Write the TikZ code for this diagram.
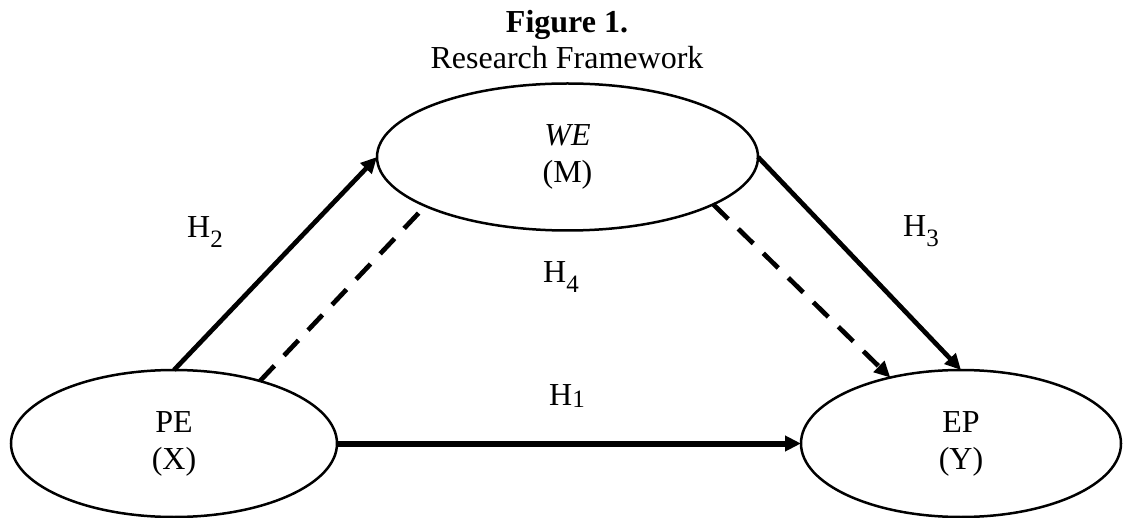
\documentclass[tikz,border=0pt]{standalone}
\usepackage{fontspec}
\setmainfont{Liberation Serif}
\usetikzlibrary{shapes.geometric,arrows.meta}
\newcommand{\hlab}[2]{H\raisebox{#2}{\fontsize{25bp}{25bp}\selectfont #1}}
\begin{document}
\begin{tikzpicture}[x=1bp,y=-1bp,
  txt/.style={font=\fontsize{32bp}{37bp}\selectfont},
  var/.style={ellipse, draw, line width=2.5bp, inner sep=0pt, outer sep=0pt,
    align=center, txt, minimum height=147bp},
  lbl/.style={inner sep=0pt, anchor=base west, txt},
  tip/.style={-{Triangle[length=16bp,width=15bp]}},
  solidpath/.style={line width=4.7bp},
  dashpath/.style={line width=4.7bp, dash pattern=on 21bp off 14bp}]
\useasboundingbox (0,0) rectangle (1123,518);
\node[txt, font=\fontsize{32bp}{37bp}\selectfont\bfseries, anchor=base, inner sep=0pt] (fig) at (567,33) {Figure 1.};
\node[txt, anchor=base, inner sep=0pt] (rf) at (567,69) {Research Framework};
\node[var, minimum width=381bp] (M) at (567.5,157) {\textit{WE}\\(M)};
\node[var, minimum width=326bp] (X) at (174,443.5) {PE\\(X)};
\node[var, minimum width=320bp] (Y) at (961,443.5) {EP\\(Y)};
\draw[solidpath, tip] (X.north) -- (M.west);
\draw[solidpath, tip] (M.east) -- (Y.north);
\draw[solidpath, line width=6bp, tip] (X.east) -- (Y.west);
\draw[dashpath] (X.36) -- (M.199);
\draw[dashpath, tip] (M.342) -- (Y.137);
\node[lbl] (h2) at (187,238) {\hlab{2}{-10bp}};
\node[lbl] (h3) at (903,237) {\hlab{3}{-10bp}};
\node[lbl] (h4) at (543,283) {\hlab{4}{-10bp}};
\node[lbl] (h1) at (549,405) {\hlab{1}{-2bp}};
\end{tikzpicture}
\end{document}
